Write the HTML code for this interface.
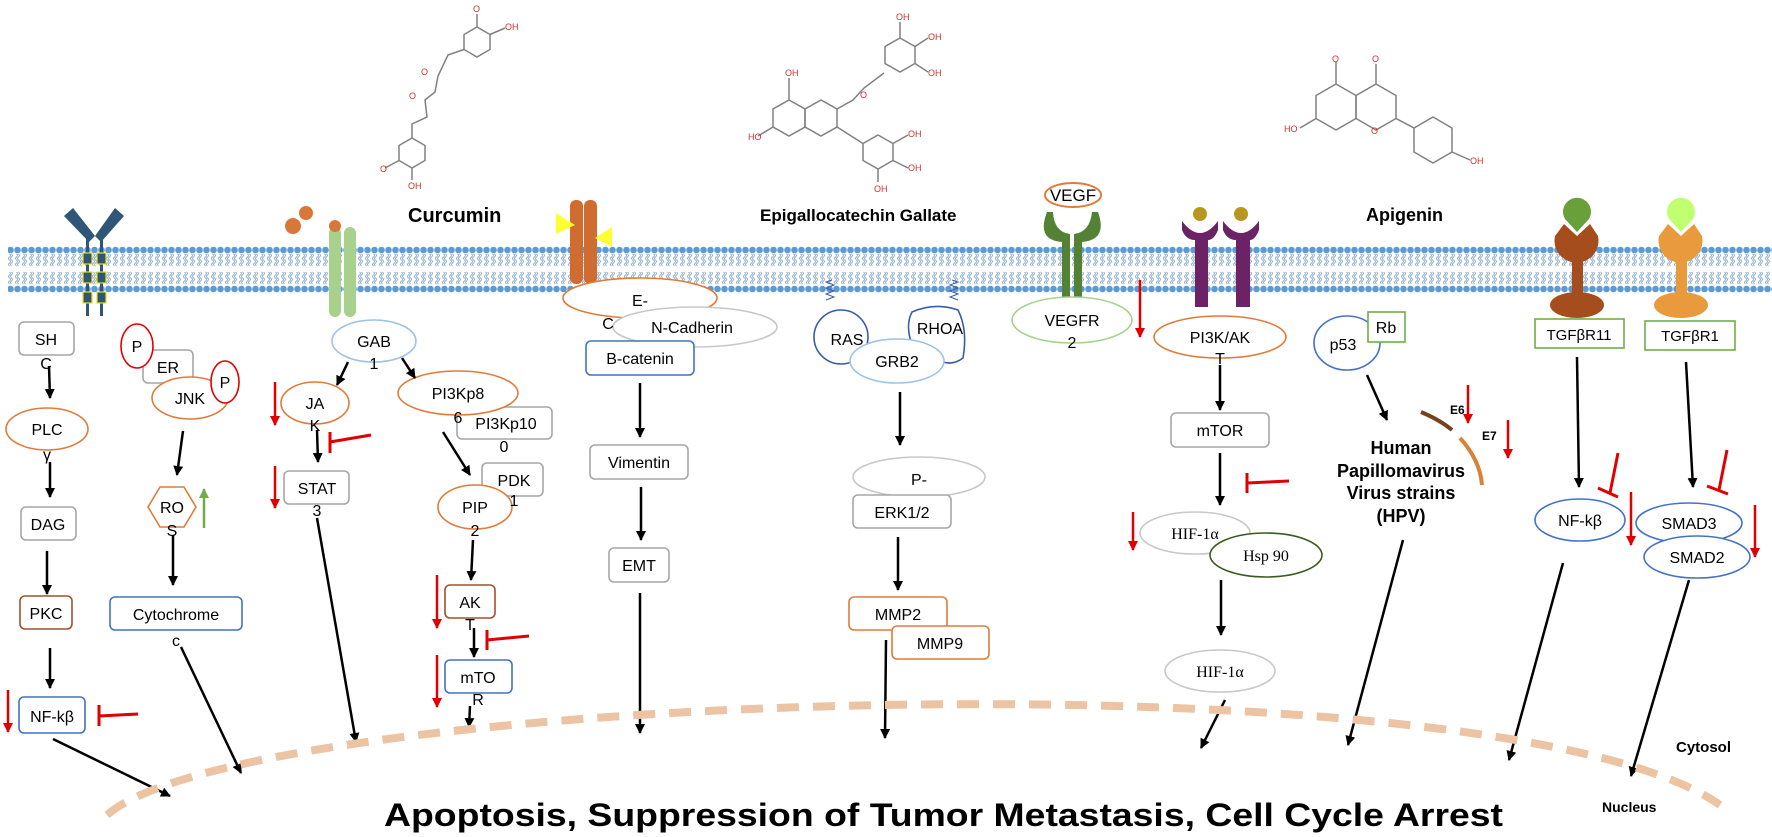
<!DOCTYPE html>
<html><head><meta charset="utf-8"><style>
html,body{margin:0;padding:0;background:#fff;}
svg{display:block;}
text{font-family:"Liberation Sans",sans-serif;font-size:16px;fill:#000;}
.s{font-family:"Liberation Serif",serif;}
.b{font-weight:bold;}
</style></head><body>
<svg width="1772" height="837" viewBox="0 0 1772 837" xmlns="http://www.w3.org/2000/svg">
<defs>
<pattern id="mem" x="0" y="246" width="7" height="47" patternUnits="userSpaceOnUse">
<path d="M2.5,8 q2,1.5 0,3 q-2,1.5 0,3 q2,1.5 0,3 q-2,1.5 0,3 M4.5,8 q2,1.5 0,3 q-2,1.5 0,3 q2,1.5 0,3 q-2,1.5 0,3 M2.5,26 q2,1.5 0,3 q-2,1.5 0,3 q2,1.5 0,3 q-2,1.5 0,3 M4.5,26 q2,1.5 0,3 q-2,1.5 0,3 q2,1.5 0,3 q-2,1.5 0,3" fill="none" stroke="#7a9fc8" stroke-width="0.8"/>
<circle cx="3.5" cy="4" r="3.3" fill="#5b9bd5"/>
<circle cx="3.5" cy="43" r="3.3" fill="#5b9bd5"/>
</pattern>
<marker id="ah" viewBox="0 0 10 10" refX="9" refY="5" markerWidth="4" markerHeight="4" orient="auto"><path d="M0,0 L10,5 L0,10 z" fill="#000"/></marker>
<marker id="rh" viewBox="0 0 10 10" refX="9" refY="5" markerWidth="4" markerHeight="4" orient="auto"><path d="M0,0 L10,5 L0,10 z" fill="#e00000"/></marker>
<marker id="gh" viewBox="0 0 10 10" refX="9" refY="5" markerWidth="4" markerHeight="4" orient="auto"><path d="M0,0 L10,5 L0,10 z" fill="#70ad47"/></marker>
</defs>

<!-- Chemical structures -->
<g fill="none" stroke="#808080" stroke-width="1.5">
<!-- curcumin -->
<polygon points="477,27 490,34.5 490,49.5 477,57 464,49.5 464,34.5"/>
<polyline points="464,49.5 448,55 438,76 435,92 425,100 427,117 412,124 412,138"/>
<polygon points="412,138 425,145.5 425,160.5 412,168 399,160.5 399,145.5"/>
<line x1="477" y1="27" x2="477" y2="14"/><line x1="490" y1="34.5" x2="505" y2="28"/>
<line x1="399" y1="160.5" x2="385" y2="168"/><line x1="412" y1="168" x2="412" y2="180"/>
<!-- EGCG -->
<polygon points="789,100 805,109 805,127 789,136 773,127 773,109"/>
<polygon points="805,109 821,100 837,109 837,127 821,136 805,127"/>
<polyline points="837,109 853,100 864,88 884,73"/>
<polygon points="900,38 915,46.5 915,63.5 900,72 885,63.5 885,46.5"/>
<polygon points="878,135 893,143.5 893,160.5 878,169 863,160.5 863,143.5"/>
<line x1="837" y1="127" x2="863" y2="143.5"/>
<line x1="789" y1="100" x2="789" y2="78"/><line x1="773" y1="127" x2="758" y2="136"/>
<line x1="900" y1="38" x2="900" y2="22"/><line x1="915" y1="46.5" x2="928" y2="38"/><line x1="915" y1="63.5" x2="928" y2="72"/>
<line x1="893" y1="143.5" x2="908" y2="135"/><line x1="893" y1="160.5" x2="908" y2="168"/><line x1="878" y1="169" x2="878" y2="182"/>
<!-- apigenin -->
<polygon points="1336,84 1356,95.5 1356,118.5 1336,130 1316,118.5 1316,95.5"/>
<polygon points="1356,95.5 1376,84 1396,95.5 1396,118.5 1376,130 1356,118.5"/>
<polygon points="1433,117 1452,128 1452,152 1433,163 1414,152 1414,128"/>
<line x1="1396" y1="118.5" x2="1414" y2="128"/>
<line x1="1336" y1="84" x2="1336" y2="62"/><line x1="1376" y1="84" x2="1376" y2="64"/>
<line x1="1316" y1="118.5" x2="1300" y2="128"/><line x1="1452" y1="152" x2="1470" y2="160"/>
</g>
<g font-size="9" fill="#d03030" style="font-size:9px">
<text x="421" y="75" style="font-size:9px;fill:#d03030">O</text><text x="409" y="99" style="font-size:9px;fill:#d03030">O</text>
<text x="505" y="30" style="font-size:9px;fill:#d03030">OH</text><text x="473" y="12" style="font-size:9px;fill:#d03030">O</text>
<text x="380" y="172" style="font-size:9px;fill:#d03030">O</text><text x="408" y="189" style="font-size:9px;fill:#d03030">OH</text>
<text x="785" y="76" style="font-size:9px;fill:#d03030">OH</text><text x="748" y="140" style="font-size:9px;fill:#d03030">HO</text>
<text x="860" y="98" style="font-size:9px;fill:#d03030">O</text><text x="896" y="20" style="font-size:9px;fill:#d03030">OH</text>
<text x="928" y="40" style="font-size:9px;fill:#d03030">OH</text><text x="928" y="76" style="font-size:9px;fill:#d03030">OH</text>
<text x="908" y="137" style="font-size:9px;fill:#d03030">OH</text><text x="908" y="171" style="font-size:9px;fill:#d03030">OH</text>
<text x="874" y="192" style="font-size:9px;fill:#d03030">OH</text>
<text x="1332" y="62" style="font-size:9px;fill:#d03030">O</text><text x="1372" y="62" style="font-size:9px;fill:#d03030">O</text>
<text x="1284" y="132" style="font-size:9px;fill:#d03030">HO</text><text x="1371" y="134" style="font-size:9px;fill:#d03030">O</text>
<text x="1470" y="164" style="font-size:9px;fill:#d03030">OH</text>
</g>

<!-- Titles -->
<text x="408" y="222" class="b" style="font-size:20px">Curcumin</text>
<text x="760" y="221" class="b" style="font-size:17px">Epigallocatechin Gallate</text>
<text x="1366" y="221" class="b" style="font-size:18px">Apigenin</text>

<!-- Membrane -->
<rect x="8" y="246" width="1764" height="47" fill="url(#mem)"/>

<!-- Left receptor -->
<g fill="#2f5577">
<polygon points="64,216 73,208 95,236 89,242"/>
<polygon points="124,216 115,208 95,236 101,242"/>
<rect x="86" y="238" width="3" height="78"/><rect x="100" y="238" width="3" height="78"/>
</g>
<g fill="#2f5577" stroke="#e8e020" stroke-width="1.2">
<rect x="83" y="253" width="9" height="11"/><rect x="97" y="253" width="9" height="11"/>
<rect x="83" y="272" width="9" height="11"/><rect x="97" y="272" width="9" height="11"/>
<rect x="83" y="292" width="9" height="11"/><rect x="97" y="292" width="9" height="11"/>
</g>

<!-- Curcumin channel -->
<rect x="329" y="227" width="12" height="90" rx="6" fill="#a9d18e"/>
<rect x="344" y="227" width="12" height="90" rx="6" fill="#a9d18e"/>
<circle cx="335" cy="226" r="6" fill="#d9773a"/>
<circle cx="293" cy="226" r="8" fill="#d9773a"/>
<circle cx="306" cy="213" r="7" fill="#d9773a"/>

<!-- E-cadherin receptor -->
<rect x="570" y="200" width="13" height="84" rx="6" fill="#d06c30"/>
<rect x="584" y="200" width="13" height="84" rx="6" fill="#d06c30"/>
<polygon points="556,213 575,225 556,234" fill="#ffff33"/>
<polygon points="612,227 595,238 612,247" fill="#ffff33"/>

<!-- RAS/RHOA squiggles -->
<path d="M826,300 l8,-3 l-8,-3 l8,-3 l-8,-3 l8,-3 l-8,-3 l6,-2" fill="none" stroke="#3a5bab" stroke-width="1"/>
<path d="M958,300 l-8,-3 l8,-3 l-8,-3 l8,-3 l-8,-3 l8,-3 l-6,-2" fill="none" stroke="#3a5bab" stroke-width="1"/>

<!-- VEGF receptor -->
<ellipse cx="1073" cy="195" rx="28" ry="12" fill="#fff" stroke="#e07b39" stroke-width="2"/>
<text x="1073" y="201" text-anchor="middle" style="font-size:17px">VEGF</text>
<path d="M1047,212 Q1036,240 1062,242 L1062,298 L1070,298 L1070,234 Q1054,232 1053,212 Z" fill="#548235"/>
<path d="M1098,212 Q1108,240 1082,242 L1082,298 L1074,298 L1074,234 Q1090,232 1092,212 Z" fill="#548235"/>

<!-- Purple receptors -->
<g fill="#6b2366">
<circle cx="1200" cy="214" r="7" fill="#b8961f"/><circle cx="1241" cy="214" r="7" fill="#b8961f"/>
<path d="M1182,221 Q1200,245 1218,221 L1218,230 Q1214,240 1208,240 L1208,307 L1195,307 L1195,240 Q1186,240 1182,230 Z"/>
<path d="M1223,221 Q1241,245 1259,221 L1259,230 Q1255,240 1250,240 L1250,307 L1236,307 L1236,240 Q1227,240 1223,230 Z"/>
</g>

<!-- TGF receptors -->
<path d="M1555,236 A22,22 0 1,0 1598,236 L1590,224 L1577,236 L1564,224 Z" fill="#a64d1e"/>
<rect x="1572" y="250" width="11" height="52" fill="#a64d1e"/>
<ellipse cx="1577" cy="305" rx="27" ry="13" fill="#a64d1e"/>
<path d="M1577,232 L1565,219 A14,14 0 1,1 1589,219 Z" fill="#6aa03a"/>
<path d="M1659,236 A22,22 0 1,0 1702,236 L1694,224 L1681,236 L1668,224 Z" fill="#e89a3c"/>
<rect x="1676" y="250" width="11" height="52" fill="#e89a3c"/>
<ellipse cx="1681" cy="305" rx="27" ry="13" fill="#e89a3c"/>
<path d="M1681,232 L1669,219 A14,14 0 1,1 1693,219 Z" fill="#c0ff70"/>

<!-- ===== Column 1 ===== -->
<g stroke-width="1.6" fill="#fff">
<rect x="19" y="322" width="55" height="33" rx="5" stroke="#a6a6a6"/>
<ellipse cx="47" cy="429" rx="41" ry="21" stroke="#e07b39"/>
<rect x="21" y="507" width="55" height="33" rx="5" stroke="#a6a6a6"/>
<rect x="20" y="596" width="52" height="33" rx="5" stroke="#a0522d"/>
<rect x="19" y="697" width="66" height="36" rx="5" stroke="#4472c4"/>
</g>
<text x="46" y="345" text-anchor="middle">SH</text><text x="46" y="369" text-anchor="middle">C</text>
<text x="47" y="435" text-anchor="middle">PLC</text><text x="47" y="460" text-anchor="middle">γ</text>
<text x="48" y="530" text-anchor="middle">DAG</text>
<text x="46" y="619" text-anchor="middle">PKC</text>
<text x="52" y="722" text-anchor="middle">NF-kβ</text>

<!-- ===== Column 2 ===== -->
<g stroke-width="1.6" fill="#fff">
<rect x="143" y="350" width="50" height="33" rx="5" stroke="#a6a6a6"/>
<ellipse cx="137" cy="346" rx="16" ry="22" stroke="#e00000"/>
<ellipse cx="190" cy="398" rx="38" ry="21" stroke="#e07b39"/>
<ellipse cx="225" cy="382" rx="14" ry="21" stroke="#e00000"/>
<polygon points="148,507 160,487 184,487 196,507 184,527 160,527" stroke="#e07b39"/>
<rect x="110" y="597" width="132" height="33" rx="5" stroke="#4472c4"/>
</g>
<text x="137" y="352" text-anchor="middle">P</text>
<text x="168" y="373" text-anchor="middle">ER</text>
<text x="190" y="404" text-anchor="middle">JNK</text>
<text x="225" y="388" text-anchor="middle">P</text>
<text x="172" y="513" text-anchor="middle">RO</text><text x="172" y="536" text-anchor="middle">S</text>
<text x="176" y="620" text-anchor="middle">Cytochrome</text><text x="176" y="646" text-anchor="middle">c</text>

<!-- ===== Column 3 (GAB) ===== -->
<g stroke-width="1.6" fill="#fff">
<ellipse cx="374" cy="341" rx="42" ry="21" stroke="#9dc3e6"/>
<ellipse cx="315" cy="403" rx="34" ry="21" stroke="#e07b39"/>
<rect x="284" y="471" width="65" height="33" rx="5" stroke="#a6a6a6"/>
<rect x="457" y="407" width="95" height="32" rx="5" stroke="#a6a6a6"/>
<ellipse cx="458" cy="393" rx="60" ry="22" stroke="#e07b39"/>
<rect x="482" y="463" width="61" height="33" rx="5" stroke="#a6a6a6"/>
<ellipse cx="475" cy="507" rx="37" ry="22" stroke="#e07b39"/>
<rect x="445" y="585" width="50" height="33" rx="5" stroke="#a0522d"/>
<rect x="445" y="660" width="67" height="33" rx="5" stroke="#4472c4"/>
</g>
<text x="374" y="347" text-anchor="middle">GAB</text><text x="374" y="369" text-anchor="middle">1</text>
<text x="315" y="409" text-anchor="middle">JA</text><text x="315" y="431" text-anchor="middle">K</text>
<text x="317" y="494" text-anchor="middle">STAT</text><text x="317" y="516" text-anchor="middle">3</text>
<text x="506" y="429" text-anchor="middle">PI3Kp10</text><text x="504" y="452" text-anchor="middle">0</text>
<text x="458" y="399" text-anchor="middle">PI3Kp8</text><text x="458" y="423" text-anchor="middle">6</text>
<text x="514" y="486" text-anchor="middle">PDK</text><text x="514" y="506" text-anchor="middle">1</text>
<text x="475" y="513" text-anchor="middle">PIP</text><text x="475" y="536" text-anchor="middle">2</text>
<text x="470" y="608" text-anchor="middle">AK</text><text x="470" y="630" text-anchor="middle">T</text>
<text x="478" y="683" text-anchor="middle">mTO</text><text x="478" y="705" text-anchor="middle">R</text>

<!-- ===== Column 4 (cadherin) ===== -->
<g stroke-width="1.6" fill="#fff">
<ellipse cx="640" cy="298" rx="77" ry="20" stroke="#e07b39"/>
<ellipse cx="695" cy="327" rx="82" ry="20" stroke="#c8c8c8"/>
<rect x="586" y="341" width="108" height="34" rx="5" stroke="#4472c4"/>
<rect x="590" y="445" width="98" height="34" rx="5" stroke="#a6a6a6"/>
<rect x="609" y="548" width="60" height="34" rx="5" stroke="#a6a6a6"/>
</g>
<text x="640" y="306" text-anchor="middle">E-</text>
<text x="608" y="329" text-anchor="middle">C</text>
<text x="692" y="333" text-anchor="middle">N-Cadherin</text>
<text x="640" y="364" text-anchor="middle">B-catenin</text>
<text x="639" y="468" text-anchor="middle">Vimentin</text>
<text x="639" y="571" text-anchor="middle">EMT</text>

<!-- ===== Column 5 (RAS) ===== -->
<g stroke-width="1.6" fill="#fff">
<circle cx="841" cy="337" r="27" stroke="#3a5bab"/>
<path d="M912,312 Q935,302 958,310 Q968,330 963,358 Q950,368 935,358 L912,345 Q905,325 912,312 Z" stroke="#3a5bab"/>
<ellipse cx="897" cy="361" rx="47" ry="22" stroke="#9dc3e6"/>
<ellipse cx="919" cy="477" rx="66" ry="20" stroke="#c8c8c8"/>
<rect x="853" y="495" width="98" height="33" rx="5" stroke="#a6a6a6"/>
<rect x="849" y="597" width="98" height="33" rx="5" stroke="#e07b39"/>
<rect x="892" y="626" width="97" height="33" rx="5" stroke="#e07b39"/>
</g>
<text x="847" y="345" text-anchor="middle">RAS</text>
<text x="940" y="334" text-anchor="middle">RHOA</text>
<text x="897" y="367" text-anchor="middle">GRB2</text>
<text x="919" y="485" text-anchor="middle">P-</text>
<text x="902" y="518" text-anchor="middle">ERK1/2</text>
<text x="898" y="620" text-anchor="middle">MMP2</text>
<text x="940" y="649" text-anchor="middle">MMP9</text>

<!-- ===== VEGFR / PI3K column ===== -->
<g stroke-width="1.6" fill="#fff">
<ellipse cx="1072" cy="320" rx="60" ry="23" stroke="#a9d18e"/>
<ellipse cx="1220" cy="337" rx="66" ry="21" stroke="#e07b39"/>
<rect x="1171" y="413" width="98" height="34" rx="5" stroke="#a6a6a6"/>
<ellipse cx="1195" cy="533" rx="55" ry="21" stroke="#c8c8c8"/>
<ellipse cx="1266" cy="555" rx="56" ry="22" stroke="#3b5a1e"/>
<ellipse cx="1220" cy="671" rx="55" ry="21" stroke="#c8c8c8"/>
</g>
<text x="1072" y="326" text-anchor="middle">VEGFR</text><text x="1072" y="348" text-anchor="middle">2</text>
<text x="1220" y="343" text-anchor="middle">PI3K/AK</text><text x="1220" y="364" text-anchor="middle">T</text>
<text x="1220" y="436" text-anchor="middle">mTOR</text>
<text x="1195" y="539" text-anchor="middle" class="s">HIF-1α</text>
<text x="1266" y="561" text-anchor="middle" class="s">Hsp 90</text>
<text x="1220" y="677" text-anchor="middle" class="s">HIF-1α</text>

<!-- ===== HPV ===== -->
<g stroke-width="1.6" fill="#fff">
<ellipse cx="1347" cy="343" rx="33" ry="27" stroke="#4472c4"/>
<rect x="1368" y="312" width="37" height="30" stroke="#70ad47"/>
</g>
<text x="1343" y="350" text-anchor="middle">p53</text>
<text x="1386" y="333" text-anchor="middle">Rb</text>
<path d="M1421,412 Q1440,420 1452,430" fill="none" stroke="#7a3f1c" stroke-width="4"/>
<path d="M1460,438 Q1480,460 1482,485" fill="none" stroke="#d9823a" stroke-width="4"/>
<text x="1450" y="414" class="b" style="font-size:12px">E6</text>
<text x="1482" y="440" class="b" style="font-size:12px">E7</text>
<g class="b" style="font-size:18px;font-weight:bold" text-anchor="middle">
<text x="1401" y="454" style="font-size:18px;font-weight:bold">Human</text>
<text x="1401" y="477" style="font-size:18px;font-weight:bold">Papillomavirus</text>
<text x="1401" y="499" style="font-size:18px;font-weight:bold">Virus strains</text>
<text x="1401" y="522" style="font-size:18px;font-weight:bold">(HPV)</text>
</g>

<!-- ===== TGF ===== -->
<g stroke-width="1.6" fill="#fff">
<rect x="1535" y="319" width="89" height="29" stroke="#70ad47"/>
<rect x="1645" y="321" width="90" height="29" stroke="#70ad47"/>
<ellipse cx="1580" cy="520" rx="45" ry="21" stroke="#4472c4"/>
<ellipse cx="1689" cy="523" rx="53" ry="20" stroke="#4472c4"/>
<ellipse cx="1697" cy="557" rx="53" ry="21" stroke="#4472c4"/>
</g>
<text x="1579" y="340" text-anchor="middle" style="font-size:15px">TGFβR11</text>
<text x="1690" y="341" text-anchor="middle" style="font-size:15px">TGFβR1</text>
<text x="1580" y="526" text-anchor="middle">NF-kβ</text>
<text x="1689" y="529" text-anchor="middle">SMAD3</text>
<text x="1697" y="563" text-anchor="middle">SMAD2</text>

<!-- Black arrows -->
<g stroke="#000" stroke-width="2.5" fill="none" marker-end="url(#ah)">
<line x1="49" y1="366" x2="50" y2="398"/>
<line x1="50" y1="462" x2="50" y2="497"/>
<line x1="47" y1="551" x2="47" y2="594"/>
<line x1="50" y1="648" x2="50" y2="688"/>
<line x1="53" y1="739" x2="170" y2="796"/>
<line x1="183" y1="431" x2="177" y2="475"/>
<line x1="173" y1="535" x2="173" y2="585"/>
<line x1="181" y1="647" x2="241" y2="773"/>
<line x1="348" y1="362" x2="337" y2="385"/>
<line x1="402" y1="358" x2="415" y2="378"/>
<line x1="317" y1="430" x2="318" y2="462"/>
<line x1="317" y1="518" x2="356" y2="742"/>
<line x1="443" y1="432" x2="470" y2="475"/>
<line x1="473" y1="540" x2="471" y2="580"/>
<line x1="474" y1="628" x2="474" y2="657"/>
<line x1="470" y1="706" x2="469" y2="727"/>
<line x1="640" y1="383" x2="640" y2="437"/>
<line x1="641" y1="487" x2="641" y2="540"/>
<line x1="640" y1="593" x2="640" y2="733"/>
<line x1="900" y1="392" x2="900" y2="445"/>
<line x1="898" y1="537" x2="898" y2="590"/>
<line x1="886" y1="640" x2="885" y2="738"/>
<line x1="1220" y1="365" x2="1220" y2="410"/>
<line x1="1220" y1="453" x2="1220" y2="505"/>
<line x1="1221" y1="580" x2="1221" y2="635"/>
<line x1="1225" y1="700" x2="1201" y2="748"/>
<line x1="1367" y1="375" x2="1387" y2="420"/>
<line x1="1403" y1="540" x2="1348" y2="745"/>
<line x1="1577" y1="357" x2="1579" y2="487"/>
<line x1="1686" y1="362" x2="1693" y2="487"/>
<line x1="1563" y1="563" x2="1509" y2="760"/>
<line x1="1689" y1="580" x2="1631" y2="776"/>
</g>

<!-- Red arrows -->
<g stroke="#e00000" stroke-width="2.5" fill="none" marker-end="url(#rh)">
<line x1="8" y1="690" x2="8" y2="732"/>
<line x1="275" y1="382" x2="275" y2="425"/>
<line x1="275" y1="466" x2="275" y2="508"/>
<line x1="437" y1="575" x2="437" y2="628"/>
<line x1="437" y1="655" x2="437" y2="707"/>
<line x1="1140" y1="280" x2="1140" y2="337"/>
<line x1="1133" y1="512" x2="1133" y2="550"/>
<line x1="1468" y1="385" x2="1468" y2="423"/>
<line x1="1508" y1="420" x2="1508" y2="458"/>
<line x1="1631" y1="492" x2="1631" y2="545"/>
<line x1="1755" y1="505" x2="1755" y2="557"/>
</g>
<line x1="204" y1="528" x2="204" y2="489" stroke="#70ad47" stroke-width="2.5" marker-end="url(#gh)"/>

<!-- Red inhibitors -->
<g stroke="#e00000" stroke-width="3" fill="none">
<path d="M99,705 L99,726 M99,716 L138,714"/>
<path d="M330,432 L330,453 M330,442 L371,435"/>
<path d="M487,630 L487,650 M487,640 L529,636"/>
<path d="M1247,473 L1247,493 M1247,483 L1289,481"/>
<path d="M1618,453 L1610,493 M1598,488 L1618,497"/>
<path d="M1727,450 L1719,490 M1707,486 L1728,494"/>
</g>

<!-- Nuclear envelope -->
<path d="M107,815 C250,690 1500,650 1720,805" fill="none" stroke="#ecc4a4" stroke-width="8" stroke-dasharray="22,14"/>

<text x="1676" y="752" class="b" style="font-size:15px;font-weight:bold">Cytosol</text>
<text x="1602" y="812" class="b" style="font-size:14px;font-weight:bold">Nucleus</text>
<text x="384" y="826" class="b" style="font-size:32px;font-weight:bold" textLength="1119" lengthAdjust="spacingAndGlyphs">Apoptosis, Suppression of Tumor Metastasis, Cell Cycle Arrest</text>
</svg>
</body></html>
